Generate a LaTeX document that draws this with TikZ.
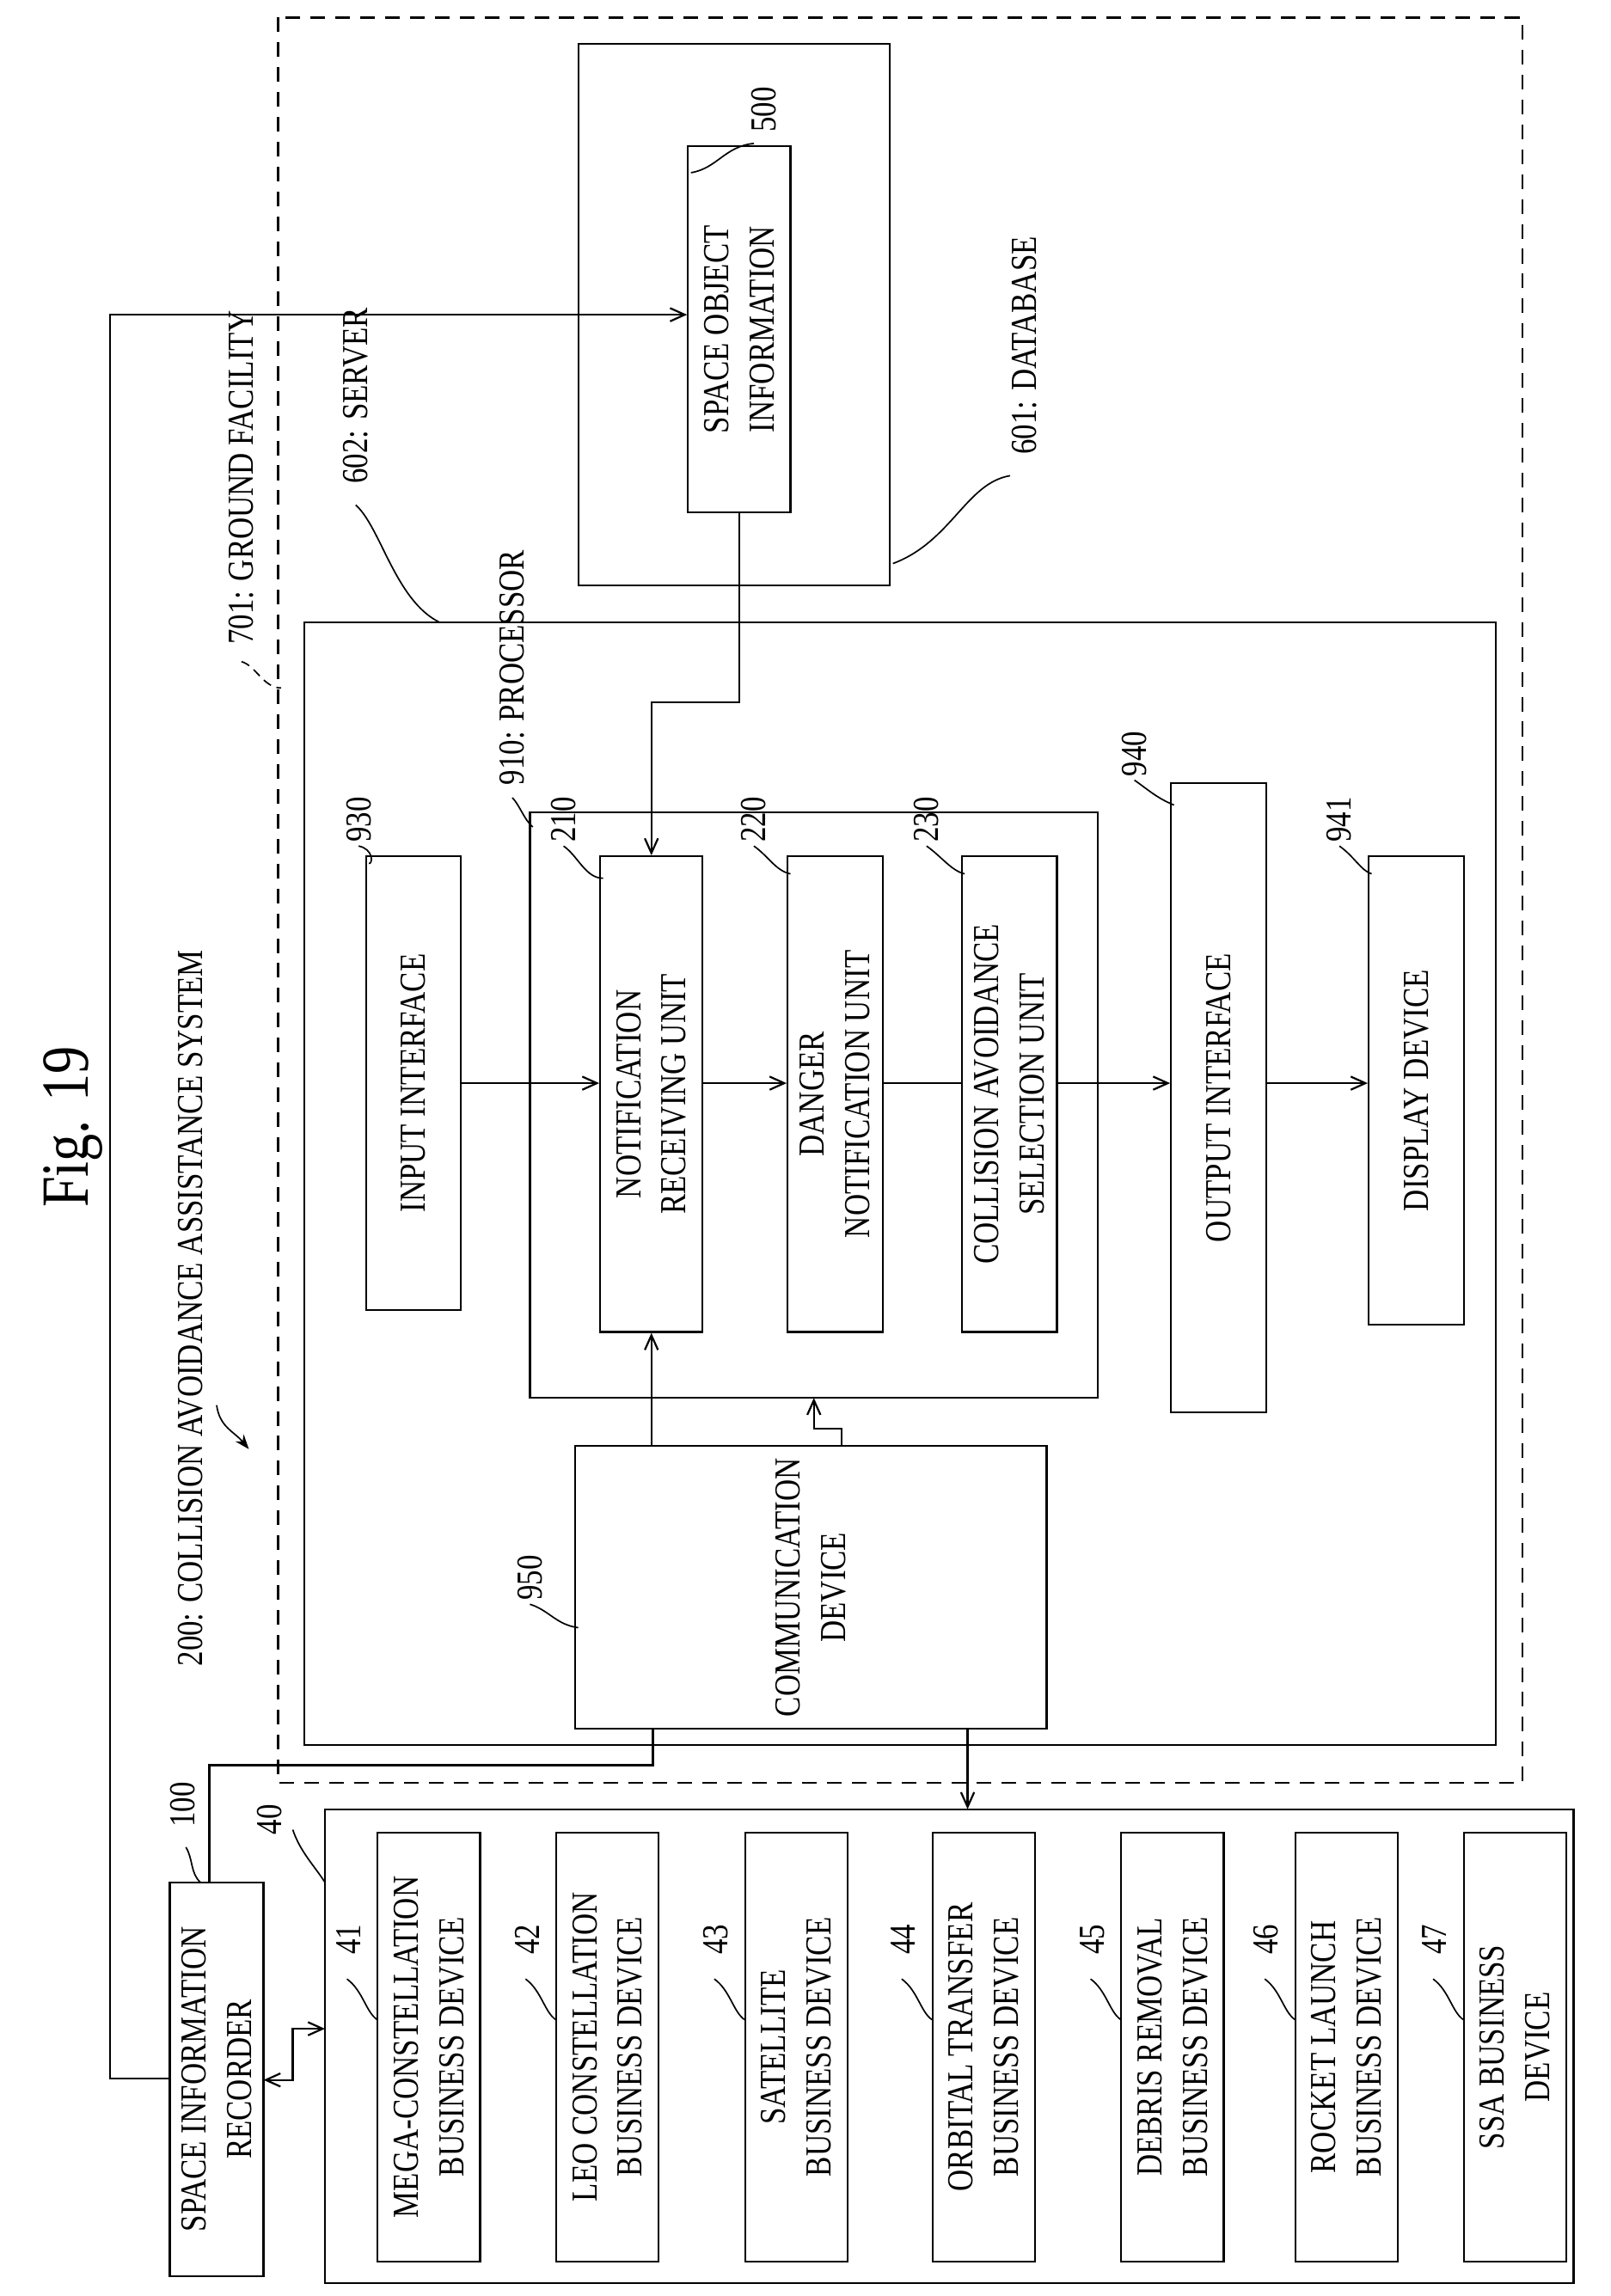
\documentclass[tikz,border=0pt]{standalone}
\usepackage{fontspec}
\setmainfont{Liberation Serif}[FakeStretch=0.82]
\usetikzlibrary{arrows.meta}
\begin{document}
\begin{tikzpicture}[x=1pt,y=-1pt,line width=1.3pt,
  box/.style={draw,rotate=90,align=center,inner sep=0pt,font=\fontsize{25}{31}\selectfont},
  lbl/.style={font=\fontsize{25}{30}\selectfont,rotate=90,inner sep=1pt},
  lead/.style={line width=1pt},
  arr/.style={-{Straight Barb[length=10pt,width=9pt]}}]
\useasboundingbox (0,0) rectangle (1100,1568.6);
% title
\node[rotate=90,font=\fontsize{46}{50}\selectfont] (fig) at (50,770) {Fig. 19};
% outer containers
\draw[dash pattern=on 10pt off 7pt] (190,12) rectangle (1040,1218);
\draw (395,30) rectangle (608,400);
\draw (208,425) rectangle (1022,1192);
\draw (362,555) rectangle (750,955);
\coordinate (proc) at (556,955);
% boxes
\node[box,minimum width=250pt,minimum height=70pt] (n500) at (505,225) {SPACE OBJECT\\INFORMATION};
\node[box,minimum width=310pt,minimum height=65pt] (n930) at (282.5,740) {INPUT INTERFACE};
\node[box,minimum width=325pt,minimum height=70pt] (n210) at (445,747.5) {NOTIFICATION\\RECEIVING UNIT};
\node[box,minimum width=325pt,minimum height=65pt] (n220) at (570.5,747.5) {DANGER\\NOTIFICATION UNIT};
\node[box,minimum width=325pt,minimum height=65pt] (n230) at (689.5,747.5) {COLLISION AVOIDANCE\\SELECTION UNIT};
\node[box,minimum width=430pt,minimum height=65pt] (n940) at (832.5,750) {OUTPUT INTERFACE};
\node[box,minimum width=320pt,minimum height=65pt] (n941) at (967.5,745) {DISPLAY DEVICE};
\node[box,minimum width=193pt,minimum height=322pt] (n950) at (554,1084.5) {COMMUNICATION\\DEVICE};
\node[box,minimum width=269pt,minimum height=64pt] (n100) at (148,1420.5) {SPACE INFORMATION\\RECORDER};
\node[draw,minimum width=853pt,minimum height=324pt,inner sep=0pt] (n40) at (648.5,1398) {};
\foreach \n/\x/\t in {41/258/{MEGA-CONSTELLATION\\BUSINESS DEVICE},42/380/{LEO CONSTELLATION\\BUSINESS DEVICE},43/509/{SATELLITE\\BUSINESS DEVICE},44/637/{ORBITAL TRANSFER\\BUSINESS DEVICE},45/766/{DEBRIS REMOVAL\\BUSINESS DEVICE},46/885/{ROCKET LAUNCH\\BUSINESS DEVICE},47/1000/{SSA BUSINESS\\DEVICE}}{
  \node[box,minimum width=293pt,minimum height=70pt] (n\n) at (\x+35,1398.5) {\t};
  \node[lbl] (l\n) at (\x-20,1325) {\n};
  \draw[lead] (\x-21,1352) .. controls (\x-10,1360) and (\x-8,1375) .. (\x,1380);
}
% labels
\node[lbl] (l500) at (522,75) {500};
\draw[lead] (515,98) .. controls (495,100) and (490,115) .. (472,118);
\node[lbl,anchor=west] (l601) at (700,312) {601: DATABASE};
\draw[lead] (690,325) .. controls (660,330) and (650,370) .. (610,385);
\node[lbl,anchor=west] (l602) at (243,332) {602: SERVER};
\draw[lead] (243,345) .. controls (260,360) and (270,410) .. (300,425);
\node[lbl,anchor=west] (l701) at (165,442) {701: GROUND FACILITY};
\draw[lead,dash pattern=on 6pt off 4pt] (165,452) .. controls (175,455) and (180,470) .. (192,470);
\node[lbl,anchor=west] (l200) at (130,1140) {200: COLLISION AVOIDANCE ASSISTANCE SYSTEM};
\draw[lead,-{Stealth[length=10pt]}] (148,960) .. controls (150,975) and (160,978) .. (170,990);
\node[lbl,anchor=west] (l910) at (350,538) {910: PROCESSOR};
\draw[lead] (350,545) .. controls (355,550) and (358,560) .. (364,565);
\node[lbl] (l930) at (245,560) {930}; \draw[lead] (245,578) .. controls (255,580) and (255,590) .. (252,590);
\node[lbl] (l210) at (385,560) {210}; \draw[lead] (385,578) .. controls (395,585) and (400,600) .. (412,600);
\node[lbl] (l220) at (515,560) {220}; \draw[lead] (515,578) .. controls (525,585) and (530,595) .. (540,597);
\node[lbl] (l230) at (633,560) {230}; \draw[lead] (633,578) .. controls (643,585) and (650,595) .. (659,597);
\node[lbl] (l940) at (775,515) {940}; \draw[lead] (775,533) .. controls (785,540) and (790,545) .. (802,550);
\node[lbl] (l941) at (915,560) {941}; \draw[lead] (915,578) .. controls (925,585) and (930,595) .. (937,597);
\node[lbl] (l950) at (362,1078) {950}; \draw[lead] (362,1096) .. controls (375,1100) and (380,1110) .. (395,1112);
\node[lbl] (l40) at (184,1243) {40}; \draw[lead] (200,1250) .. controls (205,1265) and (215,1275) .. (222,1286);
\node[lbl] (l100) at (125,1233) {100}; \draw[lead] (127,1262) .. controls (132,1270) and (130,1280) .. (137,1286);
% connectors
\draw[arr] (n930.south |- 0,740) -- (n210.north |- 0,740);
\draw[arr] (n210.south |- 0,740) -- (n220.north |- 0,740);
\draw (n220.south |- 0,740) -- (n230.north |- 0,740);
\draw[arr] (n230.south |- 0,740) -- (n940.north |- 0,740);
\draw[arr] (n940.south |- 0,740) -- (n941.north |- 0,740);
\draw[arr] (n500.west) -- (505,480) -- (445,480) -- (n210.east);
\draw[arr] (445,988) -- (n210.west);
\draw[arr] (575,988) -- (575,976) -- (556,976) -- (proc);
\draw (446,1181) -- (446,1206) -- (143,1206) -- (143,1286);
\draw[arr] (661,1181) -- (661,1236);
\draw[arr] (116,1420) -- (75,1420) -- (75,215) -- (n500.north |- 0,215);
\draw[{Straight Barb[length=10pt,width=9pt]}-{Straight Barb[length=10pt,width=9pt]}] (180,1421) -- (200,1421) -- (200,1386) -- (222,1386);
\end{tikzpicture}
\end{document}
